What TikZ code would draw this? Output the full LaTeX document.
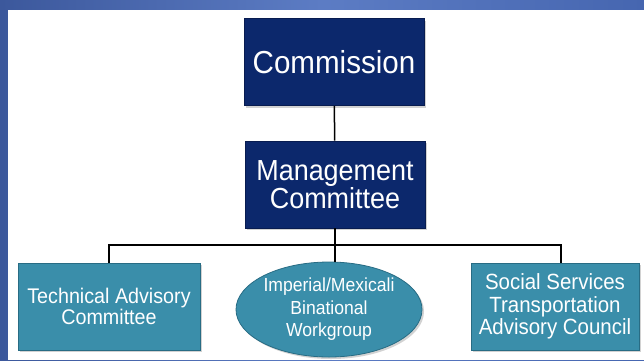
\documentclass[tikz,border=0pt]{standalone}
\usepackage{fontspec}
\setmainfont{Liberation Sans}[FakeStretch=0.93]
\usetikzlibrary{shapes.geometric,shadows}
\definecolor{navybox}{RGB}{12,40,108}
\definecolor{navyedge}{RGB}{8,28,80}
\definecolor{tealbox}{RGB}{58,142,170}
\definecolor{tealedge}{RGB}{40,108,132}
\definecolor{slideblue}{RGB}{70,102,176}
\definecolor{slidelight}{RGB}{92,124,196}
\definecolor{slidedark}{RGB}{60,88,156}
\tikzset{
  topbox/.style={rectangle, fill=navybox, draw=navyedge, line width=0.8pt, text=white,
    align=center, inner sep=0pt, minimum width=180pt, minimum height=87pt,
    drop shadow={shadow xshift=2pt, shadow yshift=-2pt, opacity=0.35}},
  groupbox/.style={rectangle, fill=tealbox, draw=tealedge, line width=0.8pt, text=white,
    align=center, inner sep=0pt, minimum height=87pt,
    drop shadow={shadow xshift=2pt, shadow yshift=-2pt, opacity=0.35}},
  groupoval/.style={ellipse, fill=tealbox, draw=tealedge, line width=0.8pt, text=white,
    align=center, inner sep=0pt, minimum width=186pt, minimum height=95pt,
    drop shadow={shadow xshift=2pt, shadow yshift=-2pt, opacity=0.35}},
  link/.style={draw=black, line width=1.5pt}
}
\begin{document}
\begin{tikzpicture}[x=1pt,y=-1pt]
      % slide background
      \fill[left color=slidedark, right color=slideblue, middle color=slidelight] (0,0) rectangle (644,360);
      \fill[white] (8,10) rectangle (644,360);
      \useasboundingbox (0,0) rectangle (644,360);
      \node[topbox, font=\fontsize{31.8}{32}\selectfont] (comm) at (334,62) {Commission};
      \node[topbox, font=\fontsize{29}{26}\selectfont] (mgmt) at (335,184.5) {Management\\Committee};
      \node[groupbox, minimum width=182pt, font=\fontsize{21.2}{21.5}\selectfont] (tac) at (109,306.5) {Technical Advisory\\Committee};
      \node[groupoval, font=\fontsize{18.9}{22.5}\selectfont] (iwg) at (329,309.5) {Imperial/Mexicali\\Binational\\Workgroup};
      \node[groupbox, minimum width=168pt, font=\fontsize{22}{22.5}\selectfont] (sstac) at (555,306.5) {Social Services\\Transportation\\Advisory Council};
      \coordinate (bus) at (335,245);
      \begin{scope}[link]
        \draw (comm) to (mgmt);
        \draw (mgmt) to (bus);
        \draw (tac.north) |- (bus);
        \draw (bus) -| (sstac.north -| 561,0);
        \draw (bus) to (bus |- iwg.north);
      \end{scope}
    \end{tikzpicture}
\end{document}
